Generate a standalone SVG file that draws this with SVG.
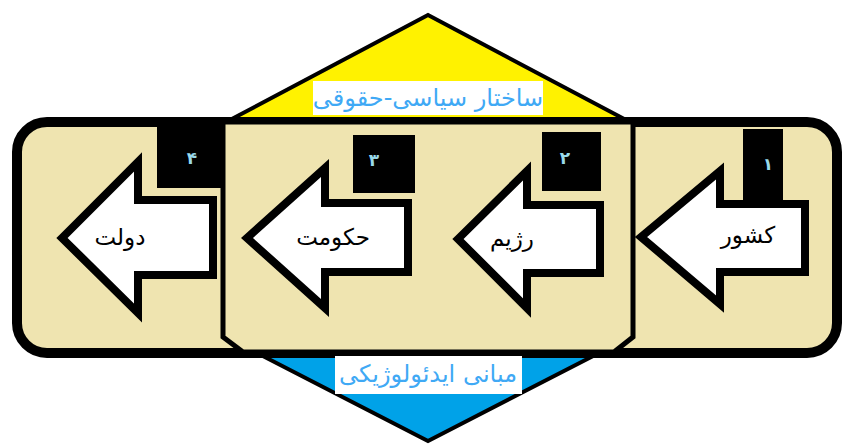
<svg xmlns="http://www.w3.org/2000/svg" width="842" height="444" viewBox="0 0 842 444">
<style>
.tri{stroke:#000;stroke-width:4;stroke-linejoin:miter}
.panel{fill:#EFE4B0;stroke:#000}
.arrow{fill:#fff;stroke:#000;stroke-width:8;stroke-linejoin:miter}
.nbox{fill:#000}
.num{font-family:"DejaVu Sans",sans-serif;font-size:17px;font-weight:bold;fill:#99D9EA;text-anchor:middle}
.lbl{font-family:"DejaVu Sans",sans-serif;font-size:23px;fill:#000;text-anchor:middle}
.cap{font-family:"DejaVu Sans",sans-serif;font-size:24px;fill:#3FA9F5;text-anchor:middle}
</style>
<rect width="842" height="444" fill="#fff"/>
<g id="top-triangle">
<polygon class="tri" points="428,15 228,121 628,121" fill="#FFF200"/>
</g>
<g id="bottom-triangle">
<polygon class="tri" points="257,353 599,353 428,441" fill="#00A2E8"/>
</g>
<g id="outer-panel">
<rect class="panel" x="17" y="122" width="820" height="231" rx="30" ry="30" stroke-width="10"/>
</g>
<g id="inner-panel">
<polygon class="panel" points="223,122 633,122 633,337 614,352 243,352 223,337" stroke-width="5"/>
</g>
<g id="top-caption">
<rect x="313" y="81" width="230" height="34" fill="#fff"/>
<text class="cap" x="428" y="106" direction="rtl">ساختار سیاسی-حقوقی</text>
</g>
<g id="bottom-caption">
<rect x="335" y="356" width="187" height="38" fill="#fff"/>
<text class="cap" x="428" y="382" direction="rtl">مبانی ایدئولوژیکی</text>
</g>
<g id="node-4">
<rect class="nbox" x="157" y="127" width="68" height="61"/>
<text class="num" x="192" y="164">۴</text>
<polygon class="arrow" points="62,238 138,162 138,200 213,200 213,275 138,275 138,313"/>
<text class="lbl" x="120" y="245" direction="rtl">دولت</text>
</g>
<g id="node-3">
<rect class="nbox" x="353" y="135" width="62" height="58"/>
<text class="num" x="374" y="166">۳</text>
<polygon class="arrow" points="247,238 325,168 325,203 408,203 408,272 325,272 325,308"/>
<text class="lbl" x="333" y="245" direction="rtl">حکومت</text>
</g>
<g id="node-2">
<rect class="nbox" x="542" y="132" width="59" height="59"/>
<text class="num" x="565" y="164">۲</text>
<polygon class="arrow" points="458,239 527,171 527,205 600,205 600,273 527,273 527,308"/>
<text class="lbl" x="512" y="246" direction="rtl">رژیم</text>
</g>
<g id="node-1">
<rect class="nbox" x="743" y="129" width="40" height="75"/>
<text class="num" x="768" y="170">۱</text>
<polygon class="arrow" points="641,237 720,171 720,204 805,204 805,272 720,272 720,304"/>
<text class="lbl" x="748" y="243" direction="rtl">کشور</text>
</g>
</svg>
